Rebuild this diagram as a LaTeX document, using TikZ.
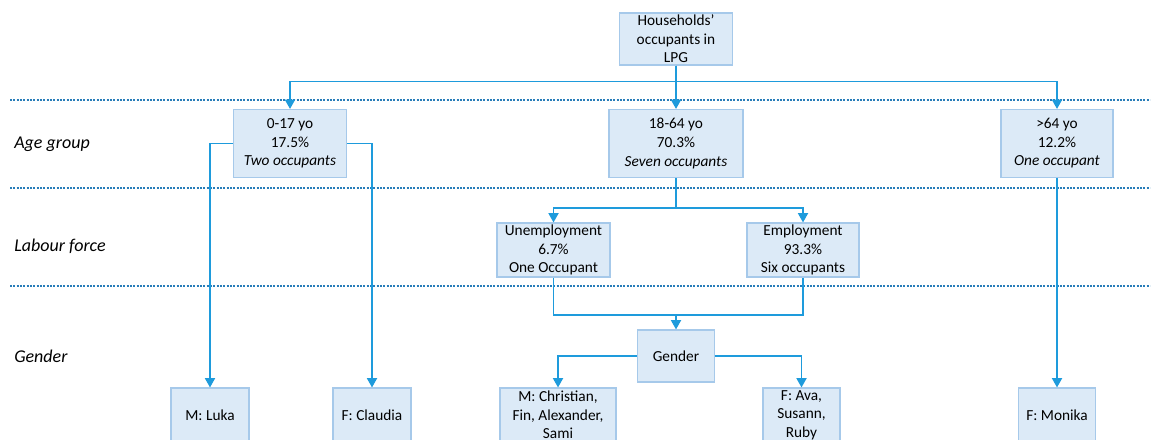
\documentclass[tikz,border=0pt]{standalone}
\usepackage{fontspec}
\setmainfont{Carlito}
\usetikzlibrary{arrows.meta}
\newlength\pxu
\setlength\pxu{0.75pt}
\definecolor{boxfill}{RGB}{220,234,247}
\definecolor{boxline}{RGB}{166,201,234}
\definecolor{conn}{RGB}{30,155,220}
\definecolor{sep}{RGB}{40,125,185}
\tikzset{
  box/.style={draw=boxline, fill=boxfill, line width=0.8pt, align=center, inner sep=1pt,
    font=\fontsize{11.5pt}{13.9pt}\selectfont},
  conline/.style={draw=conn, line width=1.3pt},
  arr/.style={conline, -{Triangle[width=7.5pt,length=7pt]}},
  sepline/.style={draw=sep, line width=0.8pt, dash pattern=on 1.6pt off 0.9pt},
  rowlabel/.style={anchor=west, inner sep=0pt, font=\fontsize{13.5pt}{16pt}\selectfont\itshape}
}
\begin{document}
\begin{tikzpicture}[x=0.75pt,y=-0.75pt]
\useasboundingbox (0,0) rectangle (1155,439);
\clip (0,0) rectangle (1155,439);
% separators
\coordinate (s1a) at (10,100); \coordinate (s1b) at (1150,100);
\coordinate (s2a) at (10,188); \coordinate (s2b) at (1150,188);
\coordinate (s3a) at (10,286); \coordinate (s3b) at (1150,286);
\draw[sepline] (s1a) -- (s1b);
\draw[sepline] (s2a) -- (s2b);
\draw[sepline] (s3a) -- (s3b);
% row labels
\node[rowlabel] (lage) at (14,144) {Age group};
\node[rowlabel] (llab) at (14,246) {Labour force};
\node[rowlabel] (lgen) at (14,356) {Gender};
% boxes
\node[box, minimum width=113\pxu, minimum height=52\pxu] (top) at (676,39) {Households’\\occupants in\\LPG};
\node[box, minimum width=113\pxu, minimum height=68\pxu] (age1) at (290,143.5) {0-17 yo\\17.5\%\\\textit{Two occupants}};
\node[box, minimum width=134\pxu, minimum height=68\pxu] (age2) at (676,143.5) {18-64 yo\\70.3\%\\\textit{Seven occupants}};
\node[box, minimum width=112\pxu, minimum height=68\pxu] (age3) at (1057,143.5) {>64 yo\\12.2\%\\\textit{One occupant}};
\node[box, minimum width=113\pxu, minimum height=54\pxu] (unemp) at (553.5,250) {Unemployment\\6.7\%\\One Occupant};
\node[box, minimum width=112\pxu, minimum height=54\pxu] (emp) at (803,250) {Employment\\93.3\%\\Six occupants};
\node[box, minimum width=77\pxu, minimum height=52\pxu] (gender) at (676,356) {Gender};
\node[box, minimum width=78\pxu, minimum height=54\pxu] (luka) at (210,415) {M: Luka};
\node[box, minimum width=78\pxu, minimum height=54\pxu] (claudia) at (372,415) {F: Claudia};
\node[box, minimum width=116\pxu, minimum height=54\pxu] (christian) at (558,415) {M: Christian,\\Fin, Alexander,\\Sami};
\node[box, minimum width=77\pxu, minimum height=54\pxu] (ava) at (801.5,415) {F: Ava,\\Susann,\\Ruby};
\node[box, minimum width=77\pxu, minimum height=54\pxu] (monika) at (1057,415) {F: Monika};
% connectors
\draw[arr] (top.south) -- (age2.north);
\draw[arr] (top.south) -- ++(0,16) -| (age1.north);
\draw[arr] (top.south) -- ++(0,16) -| (age3.north);
\draw[arr] (age1.west) -| (luka.north);
\draw[arr] (age1.east) -| (claudia.north);
\draw[arr] (age2.south) -- ++(0,30) -| (unemp.north);
\draw[arr] (age2.south) -- ++(0,30) -| (emp.north);
\coordinate (join) at (676,315);
\draw[conline] (unemp.south) |- (join) -| (emp.south);
\draw[arr] (join) -- (gender.north);
\draw[arr] (gender.west) -| (christian.north);
\draw[arr] (gender.east) -| (ava.north);
\draw[arr] (age3.south) -- (monika.north);
\end{tikzpicture}
\end{document}
